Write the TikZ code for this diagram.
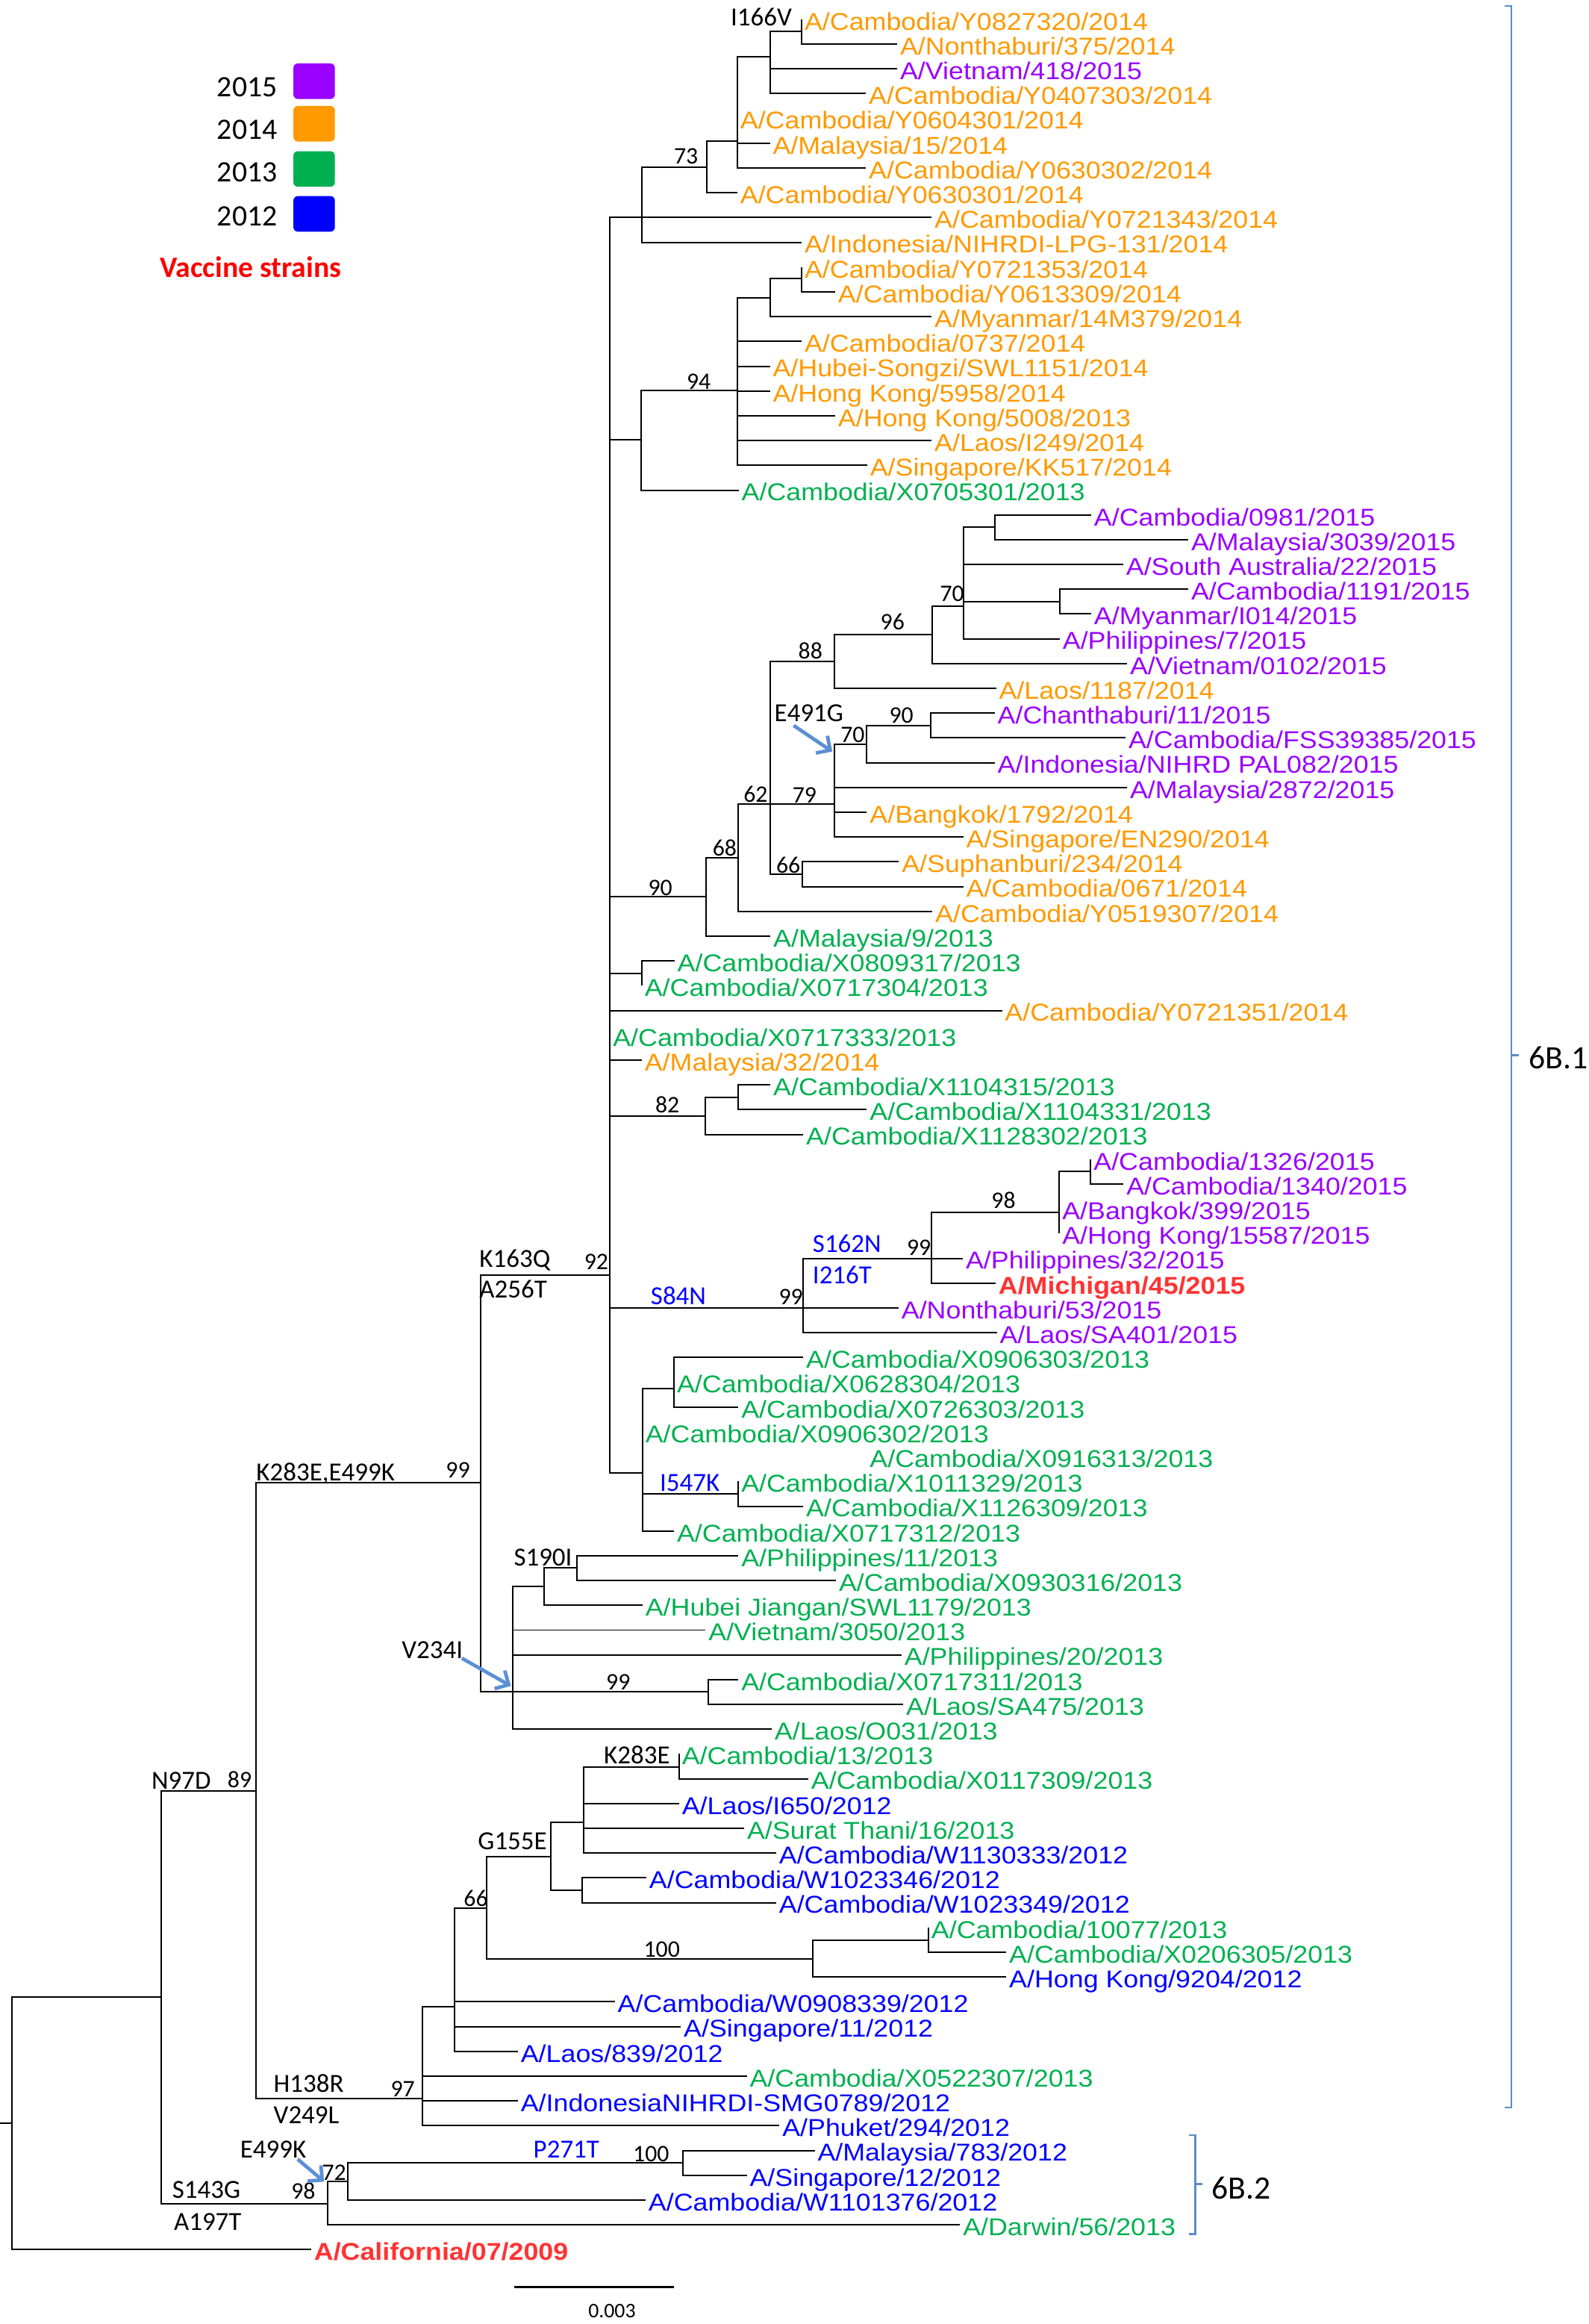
\documentclass[tikz,border=0pt]{standalone}
\usepackage{fontspec}
\setmainfont{Carlito}
\newfontfamily\tipfamily{Liberation Sans}[FakeStretch=1.1]
\usepackage{tikz}
\usetikzlibrary{arrows.meta}
\definecolor{y2015}{HTML}{9900FF}
\definecolor{y2014}{HTML}{FF9900}
\definecolor{y2013}{HTML}{00B050}
\definecolor{y2012}{HTML}{0000FF}
\definecolor{vacred}{HTML}{FF3333}
\definecolor{arrowblue}{HTML}{5B8FD6}
\definecolor{cladeblue}{HTML}{5B8BC9}

\begin{document}
\begin{tikzpicture}[
    % unidades = pixeles de la figura
    x=0.5pt, y=-0.5pt,
    declare function={row(\i)=13+16.72*(\i-1);},
    % ramas del arbol
    branch/.style={draw, line width=0.5pt},
    % nombres de las cepas
    leaf/.style={anchor=west, inner xsep=0.8pt, inner ysep=0pt, text height=7.2pt, text depth=0pt, font=\tipfamily\fontsize{8.2}{9}\selectfont},
    vaccine/.style={leaf, text=vacred, font=\tipfamily\bfseries\fontsize{8.2}{9}\selectfont},
    % bootstrap y mutaciones
    boot/.style={anchor=base west, inner sep=0pt, font=\fontsize{8}{9}\selectfont},
    mut/.style={anchor=base west, inner sep=0pt, font=\fontsize{8.8}{10}\selectfont},
    mutblue/.style={mut, text=y2012},
    mutarrow/.style={draw=arrowblue, line width=1.2pt, -{Straight Barb[length=3.5pt,width=7pt]}},
    % leyenda y clados
    yrtext/.style={anchor=base east, inner sep=0pt, font=\fontsize{10}{12}\selectfont},
    yrbox/.style={rounded corners=1.5pt, minimum width=14pt, minimum height=12pt, inner sep=0pt},
    clade/.style={draw=cladeblue, line width=0.6pt},
    cladelbl/.style={anchor=base west, inner sep=0pt, font=\fontsize{11}{13}\selectfont}
]
\useasboundingbox (0,0) rectangle (1072,1568);

% leyenda
\node[yrtext] (t2015) at (187.5,65.2) {2015};
\node[yrbox, fill=y2015] (k2015) at (212,54.8) {};
\node[yrtext] (t2014) at (187.5,93.9) {2014};
\node[yrbox, fill=y2014] (k2014) at (212,83.5) {};
\node[yrtext] (t2013) at (187.5,122.4) {2013};
\node[yrbox, fill=y2013] (k2013) at (212,114) {};
\node[yrtext] (t2012) at (187.5,152.3) {2012};
\node[yrbox, fill=y2012] (k2012) at (212,144.3) {};
\node[anchor=base west, inner sep=0pt, text=red, font=\bfseries\fontsize{10}{12}\selectfont] (vac) at (107.5,187.2) {Vaccine strains};

% nodos internos
\coordinate (stub) at (0,1432.4);
\coordinate (root) at (8.3,1432.4);
\coordinate (n97d) at (108.8,1347.6);
\coordinate (k283) at (172.9,1208.2);
\coordinate (s143) at (221.1,1486.7);
\coordinate (n72) at (234.8,1471.9);
\coordinate (p271) at (460.7,1459.3);
\coordinate (h138) at (285.3,1416);
\coordinate (n307) at (306.7,1353.8);
\coordinate (n66b) at (328.2,1287.2);
\coordinate (g155) at (371.6,1252.7);
\coordinate (n394) at (393.7,1229.7);
\coordinate (k283e) at (458.3,1192);
\coordinate (n393) at (392.8,1275.4);
\coordinate (n100) at (548.6,1321.6);
\coordinate (n627) at (626.6,1309);
\coordinate (k163) at (324.4,1000.4);
\coordinate (v234) at (345.9,1141.5);
\coordinate (n367) at (367.2,1070.5);
\coordinate (s190) at (389.3,1057.9);
\coordinate (n99c) at (477.8,1141.5);
\coordinate (bb) at (411.7,860.1);
\coordinate (ntop) at (433.4,146.6);
\coordinate (n73) at (476.8,112.8);
\coordinate (n498) at (497.6,95.2);
\coordinate (i166) at (519.6,38.3);
\coordinate (n541) at (541,21.3);
\coordinate (n94p) at (432.8,296.9);
\coordinate (n94) at (497.6,263.6);
\coordinate (n519) at (519.6,201.2);
\coordinate (n541b) at (541,188.1);
\coordinate (n90) at (476.5,604.9);
\coordinate (n68) at (498.2,578.5);
\coordinate (n62) at (519.9,542.4);
\coordinate (n88) at (563.3,446.3);
\coordinate (n96) at (629.2,428.2);
\coordinate (n70) at (650.1,408.9);
\coordinate (n671) at (671.3,355.5);
\coordinate (n715) at (715.2,405.9);
\coordinate (n79) at (563.3,542.4);
\coordinate (n70b) at (585,502.1);
\coordinate (n90b) at (628,489.5);
\coordinate (n66) at (541.6,589.7);
\coordinate (n433) at (433.1,656.9);
\coordinate (n82) at (476.2,753.1);
\coordinate (n498b) at (498.2,740.2);
\coordinate (s84) at (542.1,882.4);
\coordinate (s162) at (628.5,849.4);
\coordinate (n98) at (714.9,817.8);
\coordinate (n736) at (736.1,790.4);
\coordinate (nlow) at (433.6,993.6);
\coordinate (n455) at (454.9,936.7);
\coordinate (i547) at (498.3,1007.9);

% cepas
\node[leaf, text=y2014] (l1) at (541,{row(1)}) {A/Cambodia/Y0827320/2014};
\node[leaf, text=y2014] (l2) at (605.5,{row(2)}) {A/Nonthaburi/375/2014};
\node[leaf, text=y2015] (l3) at (605.5,{row(3)}) {A/Vietnam/418/2015};
\node[leaf, text=y2014] (l4) at (584.4,{row(4)}) {A/Cambodia/Y0407303/2014};
\node[leaf, text=y2014] (l5) at (497.6,{row(5)}) {A/Cambodia/Y0604301/2014};
\node[leaf, text=y2014] (l6) at (519.6,{row(6)}) {A/Malaysia/15/2014};
\node[leaf, text=y2014] (l7) at (584.4,{row(7)}) {A/Cambodia/Y0630302/2014};
\node[leaf, text=y2014] (l8) at (497.6,{row(8)}) {A/Cambodia/Y0630301/2014};
\node[leaf, text=y2014] (l9) at (628.7,{row(9)}) {A/Cambodia/Y0721343/2014};
\node[leaf, text=y2014] (l10) at (541,{row(10)}) {A/Indonesia/NIHRDI-LPG-131/2014};
\node[leaf, text=y2014] (l11) at (541,{row(11)}) {A/Cambodia/Y0721353/2014};
\node[leaf, text=y2014] (l12) at (563.6,{row(12)}) {A/Cambodia/Y0613309/2014};
\node[leaf, text=y2014] (l13) at (628.7,{row(13)}) {A/Myanmar/14M379/2014};
\node[leaf, text=y2014] (l14) at (541,{row(14)}) {A/Cambodia/0737/2014};
\node[leaf, text=y2014] (l15) at (519.6,{row(15)}) {A/Hubei-Songzi/SWL1151/2014};
\node[leaf, text=y2014] (l16) at (519.6,{row(16)}) {A/Hong Kong/5958/2014};
\node[leaf, text=y2014] (l17) at (563.6,{row(17)}) {A/Hong Kong/5008/2013};
\node[leaf, text=y2014] (l18) at (628.7,{row(18)}) {A/Laos/I249/2014};
\node[leaf, text=y2014] (l19) at (585.2,{row(19)}) {A/Singapore/KK517/2014};
\node[leaf, text=y2013] (l20) at (498.5,{row(20)}) {A/Cambodia/X0705301/2013};
\node[leaf, text=y2015] (l21) at (736.4,{row(21)}) {A/Cambodia/0981/2015};
\node[leaf, text=y2015] (l22) at (801.9,{row(22)}) {A/Malaysia/3039/2015};
\node[leaf, text=y2015] (l23) at (758,{row(23)}) {A/South Australia/22/2015};
\node[leaf, text=y2015] (l24) at (801.9,{row(24)}) {A/Cambodia/1191/2015};
\node[leaf, text=y2015] (l25) at (736.4,{row(25)}) {A/Myanmar/I014/2015};
\node[leaf, text=y2015] (l26) at (715.2,{row(26)}) {A/Philippines/7/2015};
\node[leaf, text=y2015] (l27) at (760.6,{row(27)}) {A/Vietnam/0102/2015};
\node[leaf, text=y2014] (l28) at (672.2,{row(28)}) {A/Laos/1187/2014};
\node[leaf, text=y2015] (l29) at (671.3,{row(29)}) {A/Chanthaburi/11/2015};
\node[leaf, text=y2015] (l30) at (759.6,{row(30)}) {A/Cambodia/FSS39385/2015};
\node[leaf, text=y2015] (l31) at (671.3,{row(31)}) {A/Indonesia/NIHRD PAL082/2015};
\node[leaf, text=y2015] (l32) at (760.6,{row(32)}) {A/Malaysia/2872/2015};
\node[leaf, text=y2014] (l33) at (585,{row(33)}) {A/Bangkok/1792/2014};
\node[leaf, text=y2014] (l34) at (650.1,{row(34)}) {A/Singapore/EN290/2014};
\node[leaf, text=y2014] (l35) at (606.6,{row(35)}) {A/Suphanburi/234/2014};
\node[leaf, text=y2014] (l36) at (650.1,{row(36)}) {A/Cambodia/0671/2014};
\node[leaf, text=y2014] (l37) at (629.2,{row(37)}) {A/Cambodia/Y0519307/2014};
\node[leaf, text=y2013] (l38) at (519.9,{row(38)}) {A/Malaysia/9/2013};
\node[leaf, text=y2013] (l39) at (455.2,{row(39)}) {A/Cambodia/X0809317/2013};
\node[leaf, text=y2013] (l40) at (433.1,{row(40)}) {A/Cambodia/X0717304/2013};
\node[leaf, text=y2014] (l41) at (676.2,{row(41)}) {A/Cambodia/Y0721351/2014};
\node[leaf, text=y2013] (l42) at (411.7,{row(42)}) {A/Cambodia/X0717333/2013};
\node[leaf, text=y2014] (l43) at (433.1,{row(43)}) {A/Malaysia/32/2014};
\node[leaf, text=y2013] (l44) at (519.9,{row(44)}) {A/Cambodia/X1104315/2013};
\node[leaf, text=y2013] (l45) at (585,{row(45)}) {A/Cambodia/X1104331/2013};
\node[leaf, text=y2013] (l46) at (542.1,{row(46)}) {A/Cambodia/X1128302/2013};
\node[leaf, text=y2015] (l47) at (736.1,{row(47)}) {A/Cambodia/1326/2015};
\node[leaf, text=y2015] (l48) at (758.2,{row(48)}) {A/Cambodia/1340/2015};
\node[leaf, text=y2015] (l49) at (714.9,{row(49)}) {A/Bangkok/399/2015};
\node[leaf, text=y2015] (l50) at (714.9,{row(50)}) {A/Hong Kong/15587/2015};
\node[leaf, text=y2015] (l51) at (649.8,{row(51)}) {A/Philippines/32/2015};
\node[vaccine] (l52) at (671.9,{row(52)}) {A/Michigan/45/2015};
\node[leaf, text=y2015] (l53) at (606.4,{row(53)}) {A/Nonthaburi/53/2015};
\node[leaf, text=y2015] (l54) at (672.7,{row(54)}) {A/Laos/SA401/2015};
\node[leaf, text=y2013] (l55) at (542.1,{row(55)}) {A/Cambodia/X0906303/2013};
\node[leaf, text=y2013] (l56) at (454.9,{row(56)}) {A/Cambodia/X0628304/2013};
\node[leaf, text=y2013] (l57) at (498.3,{row(57)}) {A/Cambodia/X0726303/2013};
\node[leaf, text=y2013] (l58) at (433.6,{row(58)}) {A/Cambodia/X0906302/2013};
\node[leaf, text=y2013] (l59) at (585,{row(59)}) {A/Cambodia/X0916313/2013};
\node[leaf, text=y2013] (l60) at (498.3,{row(60)}) {A/Cambodia/X1011329/2013};
\node[leaf, text=y2013] (l61) at (542.1,{row(61)}) {A/Cambodia/X1126309/2013};
\node[leaf, text=y2013] (l62) at (454.9,{row(62)}) {A/Cambodia/X0717312/2013};
\node[leaf, text=y2013] (l63) at (498.3,{row(63)}) {A/Philippines/11/2013};
\node[leaf, text=y2013] (l64) at (564.2,{row(64)}) {A/Cambodia/X0930316/2013};
\node[leaf, text=y2013] (l65) at (433.6,{row(65)}) {A/Hubei Jiangan/SWL1179/2013};
\node[leaf, text=y2013] (l66) at (476.2,{row(66)}) {A/Vietnam/3050/2013};
\node[leaf, text=y2013] (l67) at (608.4,{row(67)}) {A/Philippines/20/2013};
\node[leaf, text=y2013] (l68) at (498.3,{row(68)}) {A/Cambodia/X0717311/2013};
\node[leaf, text=y2013] (l69) at (609.6,{row(69)}) {A/Laos/SA475/2013};
\node[leaf, text=y2013] (l70) at (520.8,{row(70)}) {A/Laos/O031/2013};
\node[leaf, text=y2013] (l71) at (458.3,{row(71)}) {A/Cambodia/13/2013};
\node[leaf, text=y2013] (l72) at (545.5,{row(72)}) {A/Cambodia/X0117309/2013};
\node[leaf, text=y2012] (l73) at (458.3,{row(73)}) {A/Laos/I650/2012};
\node[leaf, text=y2013] (l74) at (502.2,{row(74)}) {A/Surat Thani/16/2013};
\node[leaf, text=y2012] (l75) at (523.8,{row(75)}) {A/Cambodia/W1130333/2012};
\node[leaf, text=y2012] (l76) at (436.2,{row(76)}) {A/Cambodia/W1023346/2012};
\node[leaf, text=y2012] (l77) at (523.8,{row(77)}) {A/Cambodia/W1023349/2012};
\node[leaf, text=y2013] (l78) at (626.6,{row(78)}) {A/Cambodia/10077/2013};
\node[leaf, text=y2013] (l79) at (679.1,{row(79)}) {A/Cambodia/X0206305/2013};
\node[leaf, text=y2012] (l80) at (679.1,{row(80)}) {A/Hong Kong/9204/2012};
\node[leaf, text=y2012] (l81) at (414.9,{row(81)}) {A/Cambodia/W0908339/2012};
\node[leaf, text=y2012] (l82) at (459.5,{row(82)}) {A/Singapore/11/2012};
\node[leaf, text=y2012] (l83) at (349.5,{row(83)}) {A/Laos/839/2012};
\node[leaf, text=y2013] (l84) at (504,{row(84)}) {A/Cambodia/X0522307/2013};
\node[leaf, text=y2012] (l85) at (349.5,{row(85)}) {A/IndonesiaNIHRDI-SMG0789/2012};
\node[leaf, text=y2012] (l86) at (526,{row(86)}) {A/Phuket/294/2012};
\node[leaf, text=y2012] (l87) at (549.8,{row(87)}) {A/Malaysia/783/2012};
\node[leaf, text=y2012] (l88) at (504,{row(88)}) {A/Singapore/12/2012};
\node[leaf, text=y2012] (l89) at (435.7,{row(89)}) {A/Cambodia/W1101376/2012};
\node[leaf, text=y2013] (l90) at (647.9,{row(90)}) {A/Darwin/56/2013};
\node[vaccine] (l91) at (210,{row(91)}) {A/California/07/2009};

% ramas
\draw[branch] (stub) -- (root) (root) |- (n97d) (root) |- (l91.west);
\draw[branch] (n97d) |- (k283) (n97d) |- (s143);
\draw[branch] (s143) |- (n72) (s143) |- (l90.west);
\draw[branch] (n72) |- (p271) (n72) |- (l89.west);
\draw[branch] (p271) |- (l87.west) (p271) |- (l88.west);
\draw[branch] (k283) |- (k163) (k283) |- (h138);
\draw[branch] (h138) |- (n307) (h138) |- (l84.west) (h138) |- (l85.west) (h138) |- (l86.west);
\draw[branch] (n307) |- (n66b) (n307) |- (l81.west) (n307) |- (l82.west) (n307) |- (l83.west);
\draw[branch] (n66b) |- (g155) (n66b) |- (n100);
\draw[branch] (g155) |- (n394) (g155) |- (n393);
\draw[branch] (n394) |- (k283e) (n394) |- (l73.west) (n394) |- (l74.west) (n394) |- (l75.west);
\draw[branch] (k283e) |- (l71.west) (k283e) |- (l72.west);
\draw[branch] (n393) |- (l76.west) (n393) |- (l77.west);
\draw[branch] (n100) |- (n627) (n100) |- (l80.west);
\draw[branch] (n627) |- (l78.west) (n627) |- (l79.west);
\draw[branch] (k163) |- (bb) (k163) |- (v234);
\draw[branch] (v234) |- (n367) (v234) |- (l66.west) (v234) |- (l67.west) (v234) |- (n99c) (v234) |- (l70.west);
\draw[branch] (n367) |- (s190) (n367) |- (l65.west);
\draw[branch] (s190) |- (l63.west) (s190) |- (l64.west);
\draw[branch] (n99c) |- (l68.west) (n99c) |- (l69.west);
\draw[branch] (bb) |- (ntop) (bb) |- (l9.west) (bb) |- (n94p) (bb) |- (n90) (bb) |- (n433) (bb) |- (l41.west)
    (bb) |- (l42.west) (bb) |- (l43.west) (bb) |- (n82) (bb) |- (s84) (bb) |- (nlow);
\draw[branch] (ntop) |- (n73) (ntop) |- (l10.west);
\draw[branch] (n73) |- (n498) (n73) |- (l8.west);
\draw[branch] (n498) |- (i166) (n498) |- (l5.west) (n498) |- (l6.west) (n498) |- (l7.west);
\draw[branch] (i166) |- (n541) (i166) |- (l3.west) (i166) |- (l4.west);
\draw[branch] (n541) |- (l1.west) (n541) |- (l2.west);
\draw[branch] (n94p) |- (n94) (n94p) |- (l20.west);
\draw[branch] (n94) |- (n519) (n94) |- (l14.west) (n94) |- (l15.west) (n94) |- (l16.west) (n94) |- (l17.west)
    (n94) |- (l18.west) (n94) |- (l19.west);
\draw[branch] (n519) |- (n541b) (n519) |- (l13.west);
\draw[branch] (n541b) |- (l11.west) (n541b) |- (l12.west);
\draw[branch] (n90) |- (n68) (n90) |- (l38.west);
\draw[branch] (n68) |- (n62) (n68) |- (l37.west);
\draw[branch] (n62) |- (n88) (n62) |- (n79) (n62) |- (n66);
\draw[branch] (n88) |- (n96) (n88) |- (l28.west);
\draw[branch] (n96) |- (n70) (n96) |- (l27.west);
\draw[branch] (n70) |- (n671) (n70) |- (l23.west) (n70) |- (n715) (n70) |- (l26.west);
\draw[branch] (n671) |- (l21.west) (n671) |- (l22.west);
\draw[branch] (n715) |- (l24.west) (n715) |- (l25.west);
\draw[branch] (n79) |- (n70b) (n79) |- (l32.west) (n79) |- (l33.west) (n79) |- (l34.west);
\draw[branch] (n70b) |- (n90b) (n70b) |- (l31.west);
\draw[branch] (n90b) |- (l29.west) (n90b) |- (l30.west);
\draw[branch] (n66) |- (l35.west) (n66) |- (l36.west);
\draw[branch] (n433) |- (l39.west) (n433) |- (l40.west);
\draw[branch] (n82) |- (n498b) (n82) |- (l46.west);
\draw[branch] (n498b) |- (l44.west) (n498b) |- (l45.west);
\draw[branch] (s84) |- (s162) (s84) |- (l53.west) (s84) |- (l54.west);
\draw[branch] (s162) |- (n98) (s162) |- (l51.west) (s162) |- (l52.west);
\draw[branch] (n98) |- (n736) (n98) |- (l49.west) (n98) |- (l50.west);
\draw[branch] (n736) |- (l47.west) (n736) |- (l48.west);
\draw[branch] (nlow) |- (n455) (nlow) |- (l58.west) (nlow) |- (i547) (nlow) |- (l62.west);
\draw[branch] (n455) |- (l55.west) (n455) |- (l56.west) (n455) |- (l57.west);
\draw[branch] (i547) |- (l60.west) (i547) |- (l61.west);

% bootstrap y mutaciones
\node[mut] (mI166V) at (492.8,17.6) {I166V};
\node[boot] (b73) at (454.5,110.8) {73};
\node[boot] (b94) at (463,262.8) {94};
\node[boot] (b70) at (634,405.5) {70};
\node[boot] (b96) at (593.8,424.8) {96};
\node[boot] (b88) at (538.4,444.5) {88};
\node[mut] (mE491G) at (522.3,486.6) {E491G};
\node[boot] (b90b) at (599.8,487.8) {90};
\node[boot] (b70b) at (566.9,500.8) {70};
\node[boot] (b62) at (501.4,541) {62};
\node[boot] (b79) at (534.4,541.5) {79};
\node[boot] (b68) at (480.5,577.7) {68};
\node[boot] (b66) at (523.5,589) {66};
\node[boot] (b90) at (437.1,604.2) {90};
\node[boot] (b82) at (441.9,750.6) {82};
\node[boot] (b98) at (668.7,815.3) {98};
\node[mutblue] (mS162N) at (548.1,844.7) {S162N};
\node[boot] (b99s) at (611.6,847.2) {99};
\node[mut] (mK163Q) at (323.2,855) {K163Q};
\node[boot] (b92) at (393.9,856.4) {92};
\node[mutblue] (mI216T) at (548.1,866.2) {I216T};
\node[mut] (mA256T) at (323.2,875.7) {A256T};
\node[mutblue] (mS84N) at (438.8,880) {S84N};
\node[boot] (b99n) at (525.2,880) {99};
\node[mut] (mK283E2) at (172.6,999) {K283E,E499K};
\node[boot] (b99k) at (300.5,997) {99};
\node[mutblue] (mI547K) at (444.9,1006.2) {I547K};
\node[mut] (mS190I) at (346.4,1056.3) {S190I};
\node[mut] (mV234I) at (270.8,1118.8) {V234I};
\node[boot] (b99v) at (408.7,1140.2) {99};
\node[mut] (mK283E) at (407.2,1189.8) {K283E};
\node[mut] (mN97D) at (101.9,1207) {N97D};
\node[boot] (b89) at (153.2,1206) {89};
\node[mut] (mG155E) at (322.2,1248) {G155E};
\node[boot] (b66b) at (312.6,1286.3) {66};
\node[boot] (b100) at (434.1,1320.2) {100};
\node[mut] (mH138R) at (184.3,1411.4) {H138R};
\node[boot] (b97) at (263.3,1414.8) {97};
\node[mut] (mV249L) at (184.3,1432.7) {V249L};
\node[mut] (mE499K) at (161.7,1455.9) {E499K};
\node[mutblue] (mP271T) at (359.6,1455.9) {P271T};
\node[boot] (b100p) at (426.8,1458.5) {100};
\node[boot] (b72) at (217,1471) {72};
\node[mut] (mS143G) at (115.9,1482.9) {S143G};
\node[boot] (b98s) at (196.2,1483.7) {98};
\node[mut] (mA197T) at (117,1504.6) {A197T};

% flechas de mutacion
\coordinate (aE491Gt) at (535.6,489.5);
\coordinate (aE491Gh) at (561.7,507.1);
\coordinate (aV234It) at (311.7,1118.8);
\coordinate (aV234Ih) at (344.8,1137.5);
\coordinate (aE499Kt) at (200.9,1456.8);
\coordinate (aE499Kh) at (218.7,1471.9);
\draw[mutarrow] (aE491Gt) -- (aE491Gh);
\draw[mutarrow] (aV234It) -- (aV234Ih);
\draw[mutarrow] (aE499Kt) -- (aE499Kh);

% clados
\coordinate (c1top) at (1020,4);
\coordinate (c1mid) at (1020,712);
\coordinate (c1bot) at (1020,1422);
\draw[clade] ([xshift=-2.25pt]c1top) -- (c1top) -- (c1bot) -- ([xshift=-2.25pt]c1bot);
\draw[clade] (c1mid) -- ++(5,0);
\node[cladelbl] (g6B1) at (1031.5,721) {6B.1};
\coordinate (c2top) at (806.6,1440.5);
\coordinate (c2mid) at (806.6,1473.6);
\coordinate (c2bot) at (806.6,1507.2);
\draw[clade] ([xshift=-2pt]c2top) -- (c2top) -- (c2bot) -- ([xshift=-2pt]c2bot);
\draw[clade] (c2mid) -- ++(5,0);
\node[cladelbl] (g6B2) at (817.3,1483.6) {6B.2};

% escala
\coordinate (sbl) at (347.1,1542.9);
\coordinate (sbr) at (454.7,1542.9);
\draw[line width=0.8pt] (sbl) -- (sbr);
\node[font=\fontsize{7}{8}\selectfont, inner sep=0pt] (sbt) at (413,1559) {0.003};
\end{tikzpicture}
\end{document}
